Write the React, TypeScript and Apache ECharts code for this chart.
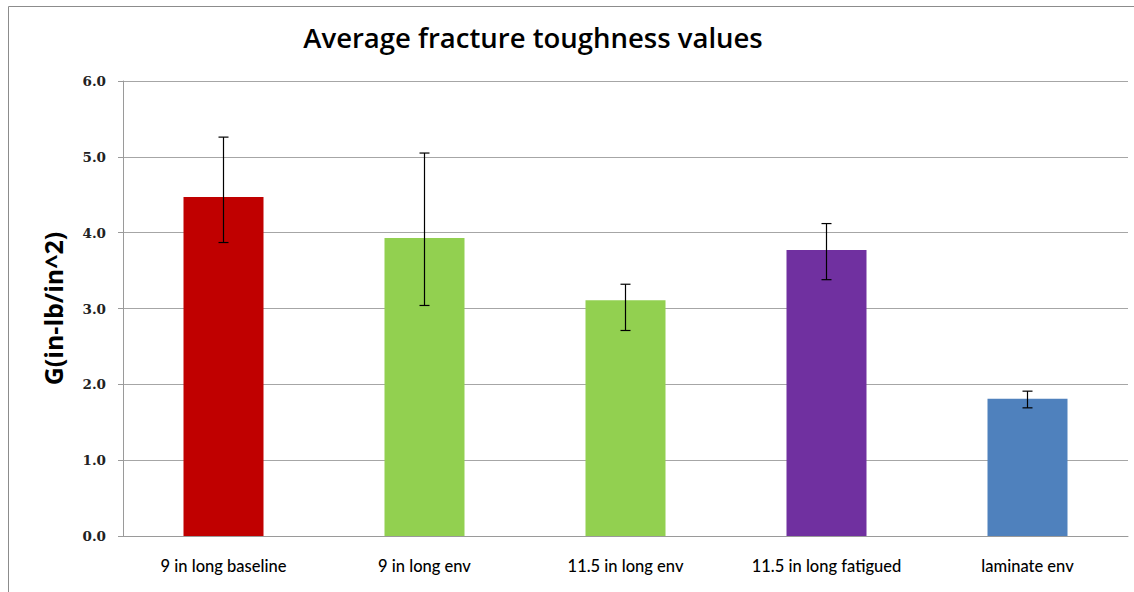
import React, { useEffect, useRef } from "react";
import * as echarts from "echarts";

const categories = [
  "9 in long baseline",
  "9 in long env",
  "11.5 in long env",
  "11.5 in long fatigued",
  "laminate env",
];
const averages = [4.47, 3.93, 3.11, 3.77, 1.81];
const errLow = [3.87, 3.04, 2.71, 3.38, 1.69];
const errHigh = [5.26, 5.05, 3.32, 4.12, 1.91];
const barColors = ["#C00000", "#92D050", "#92D050", "#7030A0", "#4F81BD"];
const yTicks = [0, 1, 2, 3, 4, 5, 6];

export default function App() {
  const ref = useRef<HTMLDivElement>(null);
  useEffect(() => {
    if (!ref.current) return;
    const chart = echarts.init(ref.current, null, { renderer: "svg" });
    const errData = categories.map((_, i) => [i, errLow[i], errHigh[i]]);
    chart.setOption({
      animation: false,
      backgroundColor: "#ffffff",
      title: {
        text: "Average fracture toughness values",
        left: 528,
        top: 18,
        textAlign: "center",
        textStyle: {
          fontFamily: "Open Sans",
          fontWeight: 600,
          fontSize: 27.5,
          color: "#000000",
        },
      },
      graphic: [
        {
          type: "rect",
          shape: { x: 8.5, y: 6.5, width: 1140, height: 620 },
          style: { fill: "none", stroke: "#8c8c8c", lineWidth: 1 },
          silent: true,
        },
      ],
      grid: { left: 123, top: 81, right: 6, bottom: 56 },
      xAxis: {
        type: "category",
        data: categories,
        axisLine: { show: true, lineStyle: { color: "#9a9a9a", width: 1 } },
        axisTick: { show: false },
        axisLabel: {
          margin: 21,
          fontFamily: "Lato",
          fontWeight: 500,
          fontSize: 16.5,
          color: "#000000",
        },
      },
      yAxis: {
        type: "value",
        min: yTicks[0],
        max: yTicks[yTicks.length - 1],
        interval: 1,
        name: "G(in-lb/in^2)",
        nameLocation: "middle",
        nameGap: 58,
        nameTextStyle: {
          fontFamily: "Open Sans",
          fontWeight: "bold",
          fontSize: 25,
          color: "#000000",
        },
        axisLine: { show: true, lineStyle: { color: "#9a9a9a", width: 1 } },
        axisTick: { show: true, length: 5, lineStyle: { color: "#9a9a9a" } },
        axisLabel: {
          margin: 17,
          fontFamily: "DejaVu Serif",
          fontWeight: "bold",
          fontSize: 13.5,
          color: "#222222",
          formatter: (v: number) => v.toFixed(1),
        },
        splitLine: { show: true, lineStyle: { color: "#a6a6a6", width: 1 } },
      },
      series: [
        {
          type: "bar",
          data: averages.map((v, i) => ({ value: v, itemStyle: { color: barColors[i] } })),
          barWidth: 80,
        },
        {
          type: "custom",
          data: errData,
          z: 10,
          renderItem: (params: any, api: any) => {
            const x = api.value(0);
            const lo = api.coord([x, api.value(1)]);
            const hi = api.coord([x, api.value(2)]);
            const cap = 5;
            const style = { stroke: "#000000", lineWidth: 1.2 };
            return {
              type: "group",
              children: [
                { type: "line", shape: { x1: hi[0], y1: hi[1], x2: lo[0], y2: lo[1] }, style },
                { type: "line", shape: { x1: hi[0] - cap, y1: hi[1], x2: hi[0] + cap, y2: hi[1] }, style },
                { type: "line", shape: { x1: lo[0] - cap, y1: lo[1], x2: lo[0] + cap, y2: lo[1] }, style },
              ],
            };
          },
        },
      ],
    });
    return () => chart.dispose();
  }, []);
  return (
    <div
      ref={ref}
      style={{ position: "absolute", left: 0, top: 0, width: 1134, height: 592 }}
    />
  );
}
